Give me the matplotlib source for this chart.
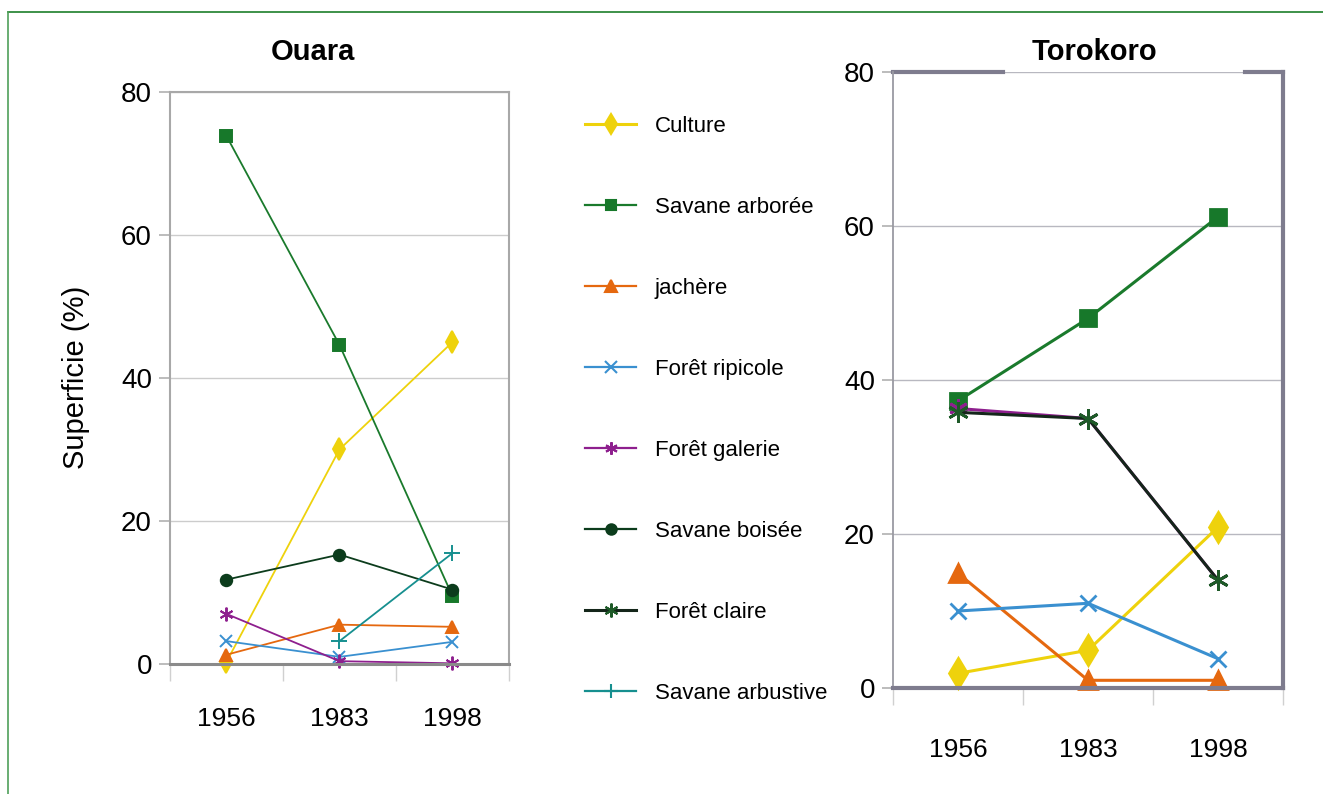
import numpy as np
import matplotlib.pyplot as plt
from matplotlib.lines import Line2D

years = ['1956', '1983', '1998']

# Ouara (% de superficie)
ouara_culture = [0.3, 30.0, 45.0]
ouara_sav_arboree = [73.8, 44.6, 9.5]
ouara_jachere = [1.3, 5.5, 5.2]
ouara_ripicole = [3.2, 1.0, 3.1]
ouara_galerie = [7.0, 0.4, 0.1]
ouara_sav_boisee = [11.8, 15.3, 10.4]
ouara_sav_arbustive = [np.nan, 3.2, 15.5]

# Torokoro (% de superficie)
toro_culture = [1.9, 4.9, 20.9]
toro_sav_arboree = [37.3, 48.0, 61.2]
toro_jachere = [14.9, 1.0, 1.0]
toro_ripicole = [10.0, 11.0, 3.8]
toro_galerie = [36.3, 35.0, 14.0]
toro_foret_claire = [35.8, 35.0, 14.0]

asterisk = (6, 2, 0)
# label: (line colour, marker colour, marker, size scale)
styles = {
    'Culture': ('#eed20c', '#eed20c', 'd', 1.0),
    'Savane arborée': ('#1a7a2c', '#17782a', 's', 0.75),
    'jachère': ('#e5680f', '#e5680f', '^', 0.85),
    'Forêt ripicole': ('#3a90d0', '#3a90d0', 'x', 0.8),
    'Forêt galerie': ('#8e1f8e', '#8e1f8e', asterisk, 0.9),
    'Savane boisée': ('#0c3c1c', '#0c3c1c', 'o', 0.75),
    'Forêt claire': ('#14261a', '#1e5a28', asterisk, 1.0),
    'Savane arbustive': ('#168f8f', '#168f8f', '+', 1.0),
}

ouara = {
    'Culture': ouara_culture,
    'Savane arborée': ouara_sav_arboree,
    'jachère': ouara_jachere,
    'Forêt ripicole': ouara_ripicole,
    'Forêt galerie': ouara_galerie,
    'Savane boisée': ouara_sav_boisee,
    'Savane arbustive': ouara_sav_arbustive,
}
torokoro = {
    'Culture': toro_culture,
    'Savane arborée': toro_sav_arboree,
    'jachère': toro_jachere,
    'Forêt ripicole': toro_ripicole,
    'Forêt galerie': toro_galerie,
    'Forêt claire': toro_foret_claire,
}

plt.rcParams['font.family'] = ['Liberation Sans', 'DejaVu Sans']

fig = plt.figure(figsize=(13.23, 7.94), dpi=100)
ax1 = fig.add_axes([0.1285, 0.1637, 0.2562, 0.7208])
ax2 = fig.add_axes([0.675, 0.1335, 0.2948, 0.7758])

x = np.arange(len(years))


def setup(ax, grid_c, tick_len, pad_x):
    ax.set_xlim(-0.5, 2.5)
    ax.set_ylim(0, 80)
    ax.set_yticks([0, 20, 40, 60, 80])
    ax.set_yticklabels(['0', '20', '40', '60', '80'], fontsize=20)
    ax.yaxis.grid(True, color=grid_c, linewidth=1)
    ax.set_axisbelow(True)
    ax.set_xticks([-0.5, 0.5, 1.5, 2.5])
    ax.set_xticklabels([])
    ax.set_xticks(x, minor=True)
    ax.set_xticklabels(years, minor=True, fontsize=19)
    ax.tick_params(axis='x', which='major', length=tick_len, color='#d0d0d0', width=1)
    ax.tick_params(axis='x', which='minor', length=0, pad=pad_x)
    ax.tick_params(axis='y', length=8, color='#b0b0b0', width=1.2, pad=5)


# ---- Ouara
setup(ax1, '#cccccc', 12, 31)
for sp in ['top', 'right', 'left']:
    ax1.spines[sp].set_color('#a8a8a8')
    ax1.spines[sp].set_linewidth(1.5)
ax1.spines['bottom'].set_color('#8a8a8a')
ax1.spines['bottom'].set_linewidth(2.2)
for name, vals in ouara.items():
    lc, mc, mk, sc = styles[name]
    ax1.plot(x, vals, color=lc, linewidth=1.3, marker=mk, markersize=11 * sc,
             markerfacecolor=mc, markeredgecolor=mc, markeredgewidth=1.4, clip_on=False)
ax1.set_ylabel('Superficie (%)', fontsize=21, labelpad=22)

# ---- Torokoro
setup(ax2, '#b8b8c0', 12, 36)
ax2.spines['top'].set_visible(False)
ax2.spines['left'].set_color('#9a9aa2')
ax2.spines['left'].set_linewidth(1.3)
for sp in ['right', 'bottom']:
    ax2.spines[sp].set_color('#7e7c8e')
    ax2.spines[sp].set_linewidth(3)
for seg in [(0, 0.282), (0.903, 1.0)]:
    ax2.plot(seg, [1, 1], color='#7e7c8e', linewidth=3, transform=ax2.transAxes,
             clip_on=False, solid_capstyle='projecting')
for name, vals in torokoro.items():
    lc, mc, mk, sc = styles[name]
    ax2.plot(x, vals, color=lc, linewidth=2.2, marker=mk, markersize=15 * sc,
             markerfacecolor=mc, markeredgecolor=mc, markeredgewidth=2, clip_on=False)

# titles
fig.text(313 / 1323, 1 - 52 / 794, 'Ouara', fontsize=21, fontweight='bold',
         ha='center', va='center')
fig.text(1094 / 1323, 1 - 52 / 794, 'Torokoro', fontsize=21, fontweight='bold',
         ha='center', va='center')

# legend
handles = []
for name, (lc, mc, mk, sc) in styles.items():
    lw = 2.2 if name in ('Culture', 'Forêt claire') else 1.6
    handles.append(Line2D([], [], color=lc, linewidth=lw, marker=mk,
                          markersize=10 * sc, markerfacecolor=mc,
                          markeredgecolor=mc, markeredgewidth=1.5))
fig.legend(handles, list(styles.keys()), loc='upper left',
           bbox_to_anchor=(585 / 1323, 1 - 116 / 794), frameon=False,
           fontsize=16, labelspacing=2.70, handlelength=2.3,
           handletextpad=0.85, borderpad=0, borderaxespad=0)

# green frame of the page
fig.add_artist(Line2D([8 / 1323, 1], [1 - 12 / 794, 1 - 12 / 794],
                      color='#1d7f2a', linewidth=1.2))
fig.add_artist(Line2D([8 / 1323, 8 / 1323], [0, 1 - 12 / 794],
                      color='#4f9f5a', linewidth=1.2))

fig.savefig('out.png', dpi=100)
